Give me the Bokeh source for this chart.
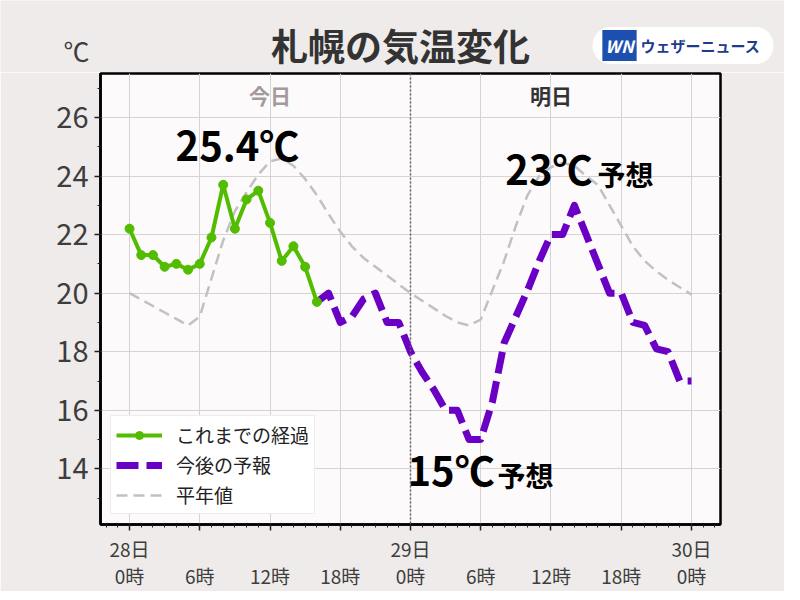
from bokeh.plotting import figure
from bokeh.layouts import column, row
from bokeh.models import FixedTicker, Label, Span, Range1d
from bokeh.core.properties import value
from bokeh.embed import file_html
from bokeh.resources import INLINE

FONT = "Noto Sans CJK JP"
BG = "#eeebea"

# ---- data ----
obs_hours = list(range(0, 17))
obs_temp = [22.2, 21.3, 21.3, 20.9, 21.0, 20.8, 21.0, 21.9, 23.7, 22.2,
            23.2, 23.5, 22.4, 21.1, 21.6, 20.9, 19.7]

fc_hours = list(range(16, 49))
fc_temp = [19.7, 20.0, 19.0, 19.2, 19.8, 20.0, 19.0, 19.0, 18.0, 17.3,
           16.7, 16.0, 16.0, 15.0, 15.0, 16.3, 18.3, 19.2, 20.1, 21.1,
           22.0, 22.0, 23.0, 22.0, 21.0, 20.0, 20.0, 19.0, 18.9, 18.1,
           18.0, 17.0, 17.0]

norm_hours = list(range(0, 49))
norm_temp = [20.0, 19.78, 19.56, 19.34, 19.12, 18.9, 19.2, 20.5, 21.8, 22.8,
             23.45, 24.05, 24.5, 24.6, 24.35, 23.9, 23.35, 22.7, 22.1, 21.6,
             21.2, 20.9, 20.6, 20.3, 20.0, 19.74, 19.48, 19.22, 19.0, 18.9,
             19.1, 20.1, 21.1, 22.3, 23.35, 24.0, 24.3, 24.45, 24.35, 24.0,
             23.7, 23.0, 22.3, 21.6, 21.1, 20.75, 20.45, 20.2, 19.95]

x_major_ticks = [0, 6, 12, 18, 24, 30, 36, 42, 48]
x_minor_ticks = list(range(-2, 51))
x_date_labels = ["28日", "", "", "", "29日", "", "", "", "30日"]
x_time_labels = ["0時", "6時", "12時", "18時", "0時", "6時", "12時", "18時", "0時"]
y_major_ticks = [14, 16, 18, 20, 22, 24, 26]
y_minor_ticks = list(range(12, 28))

day_labels = ["今日", "明日"]
day_label_hours = [12, 36]
day_label_temp = [26.77, 26.77]
day_label_colors = ["#a39b9b", "#333333"]

big_texts = ["25.4℃", "23℃", "15℃"]
big_text_hours = [3.93, 32.1, 23.74]
big_text_temp = [25.09, 24.28, 13.98]
small_texts = ["予想", "予想"]
small_text_hours = [39.97, 31.43]
small_text_temp = [24.06, 13.79]

title_text = "札幌の気温変化"
unit_text = "℃"
brand_text = "ウェザーニュース"
brand_mark = "WN"

# ---- header strip (title, unit, logo) in pixel-like coordinates ----
HEAD_H = 72
head = figure(width=784, height=HEAD_H, x_range=Range1d(0, 784),
              y_range=Range1d(HEAD_H, 0), x_axis_type=None, y_axis_type=None,
              output_backend="svg", toolbar_location=None, min_border=0,
              background_fill_color=BG, border_fill_color=BG,
              outline_line_color=None)
head.xgrid.visible = False
head.ygrid.visible = False
head.text(x=[400], y=[44], text=[title_text], text_font=value(FONT),
          text_font_size="37px", text_font_style="bold", text_color="#333333",
          text_align="center", text_baseline="middle")
head.text(x=[76], y=[50], text=[unit_text], text_font=value(FONT),
          text_font_size="26px", text_color="#3d3d3d",
          text_align="center", text_baseline="middle")
head.add_layout(Label(x=592, y=45, text=brand_text, text_font=FONT,
                      text_font_size="15px", text_font_style="bold",
                      text_color="#1e3c8c", text_align="left",
                      text_baseline="middle", background_fill_color="white",
                      padding=dict(left=48, right=13, top=8, bottom=8),
                      border_radius=18))
head.add_layout(Label(x=619, y=45, text=brand_mark, text_font=FONT,
                      text_font_size="17px", text_font_style="bold italic",
                      text_color="white", text_align="center",
                      text_baseline="middle", background_fill_color="#1d4fae",
                      padding=3))

# ---- main chart ----
p = figure(frame_width=620, frame_height=451,
           x_range=Range1d(-2.48, 50.48), y_range=Range1d(12.1, 27.5),
           output_backend="svg", toolbar_location=None,
           min_border_left=100, min_border_right=64,
           min_border_top=1, min_border_bottom=58,
           background_fill_color="#fcfafb", border_fill_color=BG,
           outline_line_color="black", outline_line_width=2.5)

p.xgrid.grid_line_color = "#d6d3d3"
p.ygrid.grid_line_color = "#d6d3d3"

yax = p.yaxis[0]
yax.ticker = FixedTicker(ticks=y_major_ticks, minor_ticks=y_minor_ticks)
yax.axis_line_color = "black"
yax.axis_line_width = 2.5
yax.major_tick_in = 0
yax.major_tick_out = 6
yax.minor_tick_in = 0
yax.minor_tick_out = 3
yax.major_tick_line_color = "#222222"
yax.minor_tick_line_color = "#222222"
yax.major_tick_line_width = 1.5
yax.major_label_text_font = FONT
yax.major_label_text_font_size = "29px"
yax.major_label_text_color = "#3d3d3d"
yax.major_label_standoff = 6

xax = p.xaxis[0]
xax.ticker = FixedTicker(ticks=x_major_ticks, minor_ticks=x_minor_ticks)
xax.major_label_overrides = {float(t): f"{d}\n{h}" for t, d, h in
                             zip(x_major_ticks, x_date_labels, x_time_labels)}
xax.axis_line_color = "black"
xax.axis_line_width = 2.5
xax.major_tick_in = 0
xax.major_tick_out = 6
xax.minor_tick_in = 0
xax.minor_tick_out = 3
xax.major_tick_line_color = "#222222"
xax.minor_tick_line_color = "#222222"
xax.major_tick_line_width = 1.5
xax.major_label_text_font = FONT
xax.major_label_text_font_size = "19px"
xax.major_label_text_color = "#3d3d3d"
xax.major_label_text_line_height = 1.0
xax.major_label_standoff = 4

p.add_layout(Span(location=24, dimension="height", line_color="#666666",
                  line_width=1.5, line_dash="2 2"))

p.line(norm_hours, norm_temp, line_color="#c2c0c0", line_width=2.5,
       line_dash="11 6", legend_label="平年値")
p.line(fc_hours, fc_temp, line_color="#6a00c4", line_width=7,
       line_dash="22 8", line_join="round", legend_label="今後の予報")
p.line(obs_hours, obs_temp, line_color="#52bd00", line_width=4,
       line_join="round", legend_label="これまでの経過")
p.scatter(obs_hours, obs_temp, size=9, marker="circle", fill_color="#52bd00",
          line_color="#52bd00", legend_label="これまでの経過")

p.text(x=day_label_hours, y=day_label_temp, text=day_labels,
       text_color=day_label_colors, text_font=value(FONT),
       text_font_size="21px", text_font_style="bold",
       text_align="center", text_baseline="middle")

p.text(x=big_text_hours, y=big_text_temp, text=big_texts,
       text_color="black", text_font=value(FONT), text_font_size="40px",
       text_font_style="bold", text_align="left", text_baseline="alphabetic")
p.text(x=small_text_hours, y=small_text_temp, text=small_texts,
       text_color="black", text_font=value(FONT), text_font_size="28px",
       text_font_style="bold", text_align="left", text_baseline="alphabetic")

lg = p.legend[0]
items = {it.label.value: it for it in lg.items}
lg.items = [items["これまでの経過"], items["今後の予報"], items["平年値"]]
lg.location = "bottom_left"
lg.margin = 10
lg.padding = 5
lg.spacing = 3
lg.glyph_width = 46
lg.glyph_height = 20
lg.label_standoff = 14
lg.label_text_font = FONT
lg.label_text_font_size = "19px"
lg.label_text_color = "#222222"
lg.background_fill_color = "white"
lg.background_fill_alpha = 1.0
lg.border_line_color = "#dcdcdc"
lg.border_line_width = 1

layout = column(row(head), p, spacing=0)
open("out.html", "w").write(file_html(layout, INLINE))
